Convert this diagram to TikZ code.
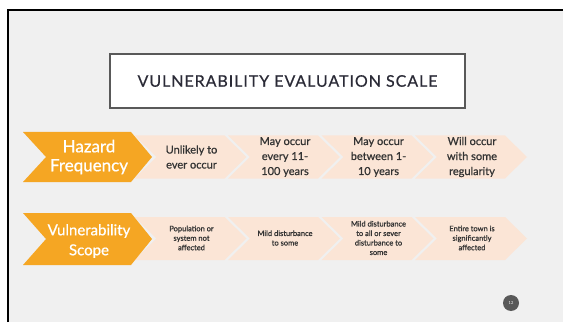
\documentclass[tikz,border=0pt]{standalone}
\usepackage{fontspec}
\setmainfont{Lato}
\newfontfamily\titlefont[LetterSpace=6,FakeBold=0.4]{Lato}
\newfontfamily\cellfont[FakeBold=0.8]{Lato}
\definecolor{slidegray}{HTML}{F0F0F0}
\definecolor{hazorange}{HTML}{F5A623}
\definecolor{peach}{HTML}{FBE5D6}
\definecolor{inkgray}{HTML}{333333}
\definecolor{titleink}{HTML}{2A2A36}
\tikzset{
  headtxt/.style={text=white, align=center},
  celltxt/.style={text=inkgray, align=center},
}
\begin{document}
\begin{tikzpicture}[x=1pt, y=1pt, line join=miter]
            \def\pw{563}
            \def\ph{322}
            \def\per{93.5}
            \def\tip{22}
            \useasboundingbox (0,0) rectangle (\pw,\ph);
            \fill[white] (0,0) rectangle (\pw,\ph);
            \fill[slidegray] (8,0) rectangle (\pw,312);
            \draw[line width=1.8] (8,0)--(8,312)--(\pw,312);
            % title
            \node[draw=black!65, line width=1.2, fill=white, minimum width=355, minimum height=54, inner sep=0,
                  text=titleink, font=\titlefont\fontsize{16}{18}\selectfont] (title) at (287.5,241) {VULNERABILITY EVALUATION SCALE};
            % light chevrons
            \foreach \i in {0,...,3}{
                \pgfmathsetmacro\xs{134.5+\per*\i}
                \foreach \yc in {165,83.5}{
                    \fill[peach] (\xs,\yc+21.5)--++(90,0)--++(\tip,-21.5)--++(-\tip,-21.5)--++(-90,0)--++(\tip,21.5)--cycle;
                }
            }
            % orange heads
            \foreach \yc/\hh in {165/25,83/26}{
                \fill[hazorange] (23,\yc+\hh)--(131,\yc+\hh)--(152,\yc)--(131,\yc-\hh)--(23,\yc-\hh)--(46,\yc)--cycle;
            }
            \node[headtxt, font=\cellfont\fontsize{17}{19}\selectfont] (hazard) at (89,165) {Hazard\\Frequency};
            \node[headtxt, font=\cellfont\fontsize{15}{20}\selectfont] (vscope) at (89,81) {Vulnerability\\Scope};
            \foreach \txt [count=\i from 0] in {{Unlikely to\\ever occur},{May occur\\every 11-\\100 years},
                {May occur\\between 1-\\10 years},{Will occur\\with some\\regularity}}{
                \node[celltxt, font=\cellfont\fontsize{11}{15}\selectfont] (freq\i) at (191.5+\per*\i,165) {\txt};
            }
            \foreach \txt [count=\i from 0] in {{Population or\\system not\\affected},{Mild disturbance\\to some},
                {Mild disturbance\\to all or sever\\disturbance to\\some},{Entire town is\\significantly\\affected}}{
                \node[celltxt, font=\cellfont\fontsize{7.5}{9.5}\selectfont] (scope\i) at (191.5+\per*\i,84) {\txt};
            }
            % page number
            \node[circle, fill=black!65, minimum size=16, inner sep=0, text=white,
                  font=\fontsize{4}{4}\selectfont] (pnum) at (511,19) {12};
\end{tikzpicture}
\end{document}
